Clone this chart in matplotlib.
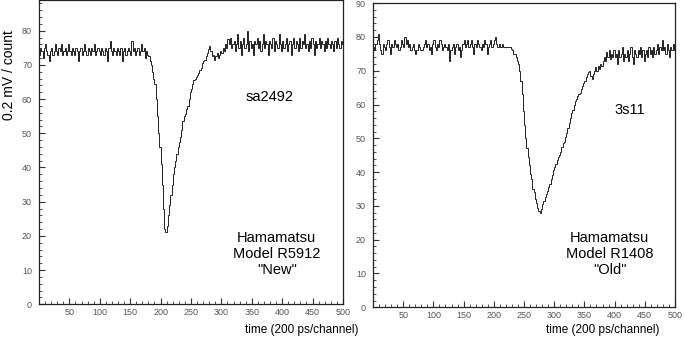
import matplotlib
matplotlib.use('Agg')
import matplotlib.pyplot as plt
import numpy as np
from matplotlib.ticker import MultipleLocator

plt.rcParams['font.family'] = ['Liberation Sans', 'DejaVu Sans']

# bins are 2 channels wide, channels 0..500
bin_width = 2

# left pulse: Hamamatsu R5912 (sa2492), ch 0-180 / 180-320 / 320-500
new_pre = [73, 75, 74, 72, 75, 76, 74, 73, 71, 74,
           75, 73, 74, 76, 74, 73, 75, 74, 76, 73,
           74, 75, 73, 74, 76, 74, 73, 75, 74, 73,
           75, 74, 71, 74, 75, 73, 74, 76, 74, 73,
           75, 74, 73, 75, 74, 76, 73, 74, 75, 74,
           73, 75, 74, 73, 75, 74, 71, 75, 77, 74,
           73, 75, 74, 73, 75, 74, 73, 75, 71, 74,
           75, 73, 74, 75, 74, 73, 77, 74, 75, 73,
           74, 75, 73, 74, 76, 74, 75, 72, 74, 73]
new_pulse = [72.5, 71, 70, 68, 66, 64.5, 60, 55, 50, 46,
             41, 35, 28, 22, 21, 23, 26, 29, 32, 35,
             38, 40, 42, 44, 46, 47.5, 49, 51, 53.5, 55,
             55.5, 57, 58, 60, 62, 63, 64.5, 65.5, 66, 66.5,
             67, 67.5, 68.5, 69, 70.5, 71, 71.5, 72.5, 73.5, 74.5,
             75.5, 74, 72.5, 73, 71.5, 72.5, 73.5, 72, 73, 74,
             73.5, 75, 74, 76, 75, 77.5, 76, 78, 75, 76]
new_post = [77, 74, 76, 79, 75, 77, 73, 76, 78, 75,
            76, 80, 74, 77, 75, 76, 73, 77, 76, 78,
            75, 77, 74, 76, 79, 75, 77, 76, 73, 77,
            76, 75, 78, 74, 77, 76, 75, 79, 76, 74,
            77, 75, 76, 78, 74, 76, 77, 73, 76, 78,
            75, 77, 76, 74, 78, 75, 77, 76, 79, 75,
            76, 74, 77, 75, 78, 76, 73, 77, 75, 76,
            78, 75, 77, 76, 74, 77, 75, 78, 76, 75,
            77, 76, 74, 77, 75, 78, 76, 75, 77, 76]

# right pulse: Hamamatsu R1408 (3s11), ch 0-220 / 220-400 / 400-500
old_pre = [77, 76, 78, 79, 81, 78, 76, 75, 78, 77,
           76, 78, 79, 77, 75, 78, 77, 79, 78, 77,
           78, 76, 77, 79, 78, 77, 80, 78, 79, 77,
           78, 76, 77, 78, 76, 75, 76, 78, 77, 76,
           76, 77, 78, 79, 77, 78, 76, 77, 75, 78,
           79, 77, 76, 78, 77, 79, 78, 76, 77, 78,
           77, 76, 78, 73, 76, 77, 78, 75, 77, 78,
           76, 77, 74, 76, 78, 79, 77, 78, 79, 77,
           78, 79, 77, 75, 78, 77, 79, 78, 77, 76,
           78, 77, 79, 78, 75, 77, 78, 79, 77, 78,
           79, 80, 78, 77, 78, 77, 77, 78, 77, 77]
old_pulse = [77, 77, 77, 77, 76.5, 76, 75, 75, 74, 73,
             72, 70, 67, 63, 58, 54, 50, 47, 44.5, 42,
             39.5, 38, 35, 34, 32, 31, 29.5, 28.5, 28, 29,
             30.5, 31.5, 32.5, 33.5, 34.5, 35.5, 36.5, 38, 39, 40.5,
             41.5, 42.5, 43.5, 44.5, 45, 46, 47.5, 48.5, 49, 50.5,
             51.5, 53, 54.5, 56, 57.5, 58.5, 60, 61, 61.5, 62.5,
             63, 63.5, 64.5, 65.5, 66.5, 67, 68, 69, 69.5, 70,
             68.5, 67.5, 69, 70, 71, 70, 71.5, 70.5, 72, 71.5,
             73, 74, 73, 75.5, 74, 76, 73.5, 75, 74, 76]
old_post = [74, 75, 72, 76, 74, 75, 77, 73, 75, 74,
            76, 73, 75, 77, 74, 72, 76, 75, 74, 76,
            75, 77, 74, 76, 73, 75, 76, 74, 77, 75,
            76, 74, 77, 75, 76, 78, 75, 77, 76, 79,
            76, 77, 75, 78, 76, 74, 77, 76, 78, 76]

new_counts = np.array(new_pre + new_pulse + new_post)
old_counts = np.array(old_pre + old_pulse + old_post)

fig = plt.figure(figsize=(6.85, 3.45), dpi=100)
ax1 = fig.add_axes([0.0569, 0.118, 0.4438, 0.8823])
ax2 = fig.add_axes([0.5445, 0.1093, 0.4409, 0.8817])


def style(ax, ymax):
    ax.set_xlim(0, 500)
    ax.set_ylim(0, ymax)
    ax.xaxis.set_minor_locator(MultipleLocator(10))
    ax.yaxis.set_major_locator(MultipleLocator(10))
    ax.yaxis.set_minor_locator(MultipleLocator(2))
    ax.tick_params(which='both', direction='in', labelsize=6.5,
                   labelcolor='#555555', color='#333333')
    ax.tick_params(which='major', length=4.5)
    ax.tick_params(which='minor', length=2)
    ax.tick_params(axis='x', pad=2.5)
    ax.tick_params(axis='y', pad=5)
    # ROOT style: no "0" label on x
    ax.set_xticks(np.arange(50, 501, 50))
    for s in ax.spines.values():
        s.set_linewidth(0.9)
        s.set_color('#222222')


for ax, counts, ymax in [(ax1, new_counts, 89), (ax2, old_counts, 90)]:
    edges = np.arange(len(counts) + 1) * bin_width
    ax.stairs(counts, edges, color='#222222', linewidth=0.7)
    style(ax, ymax)

ax1.text(380, 60.7, 'sa2492', fontsize=10.5, ha='center', va='center')
ax1.text(391, 14.7, 'Hamamatsu\nModel R5912\n"New"', fontsize=10.5,
         ha='center', va='center', linespacing=1.15)
ax2.text(425, 58.4, '3s11', fontsize=10.5, ha='center', va='center')
ax2.text(392, 15.8, 'Hamamatsu\nModel R1408\n"Old"', fontsize=10.5,
         ha='center', va='center', linespacing=1.15)

fig.text(0.440, 0.0435, 'time (200 ps/channel)', fontsize=8.5,
         ha='center', va='center')
fig.text(0.8796, 0.0435, 'time (200 ps/channel)', fontsize=8.5,
         ha='center', va='center')
fig.text(0.0131, 0.783, '0.2 mV / count', fontsize=10, rotation=90,
         ha='center', va='center')

fig.savefig('out.png', dpi=100)
